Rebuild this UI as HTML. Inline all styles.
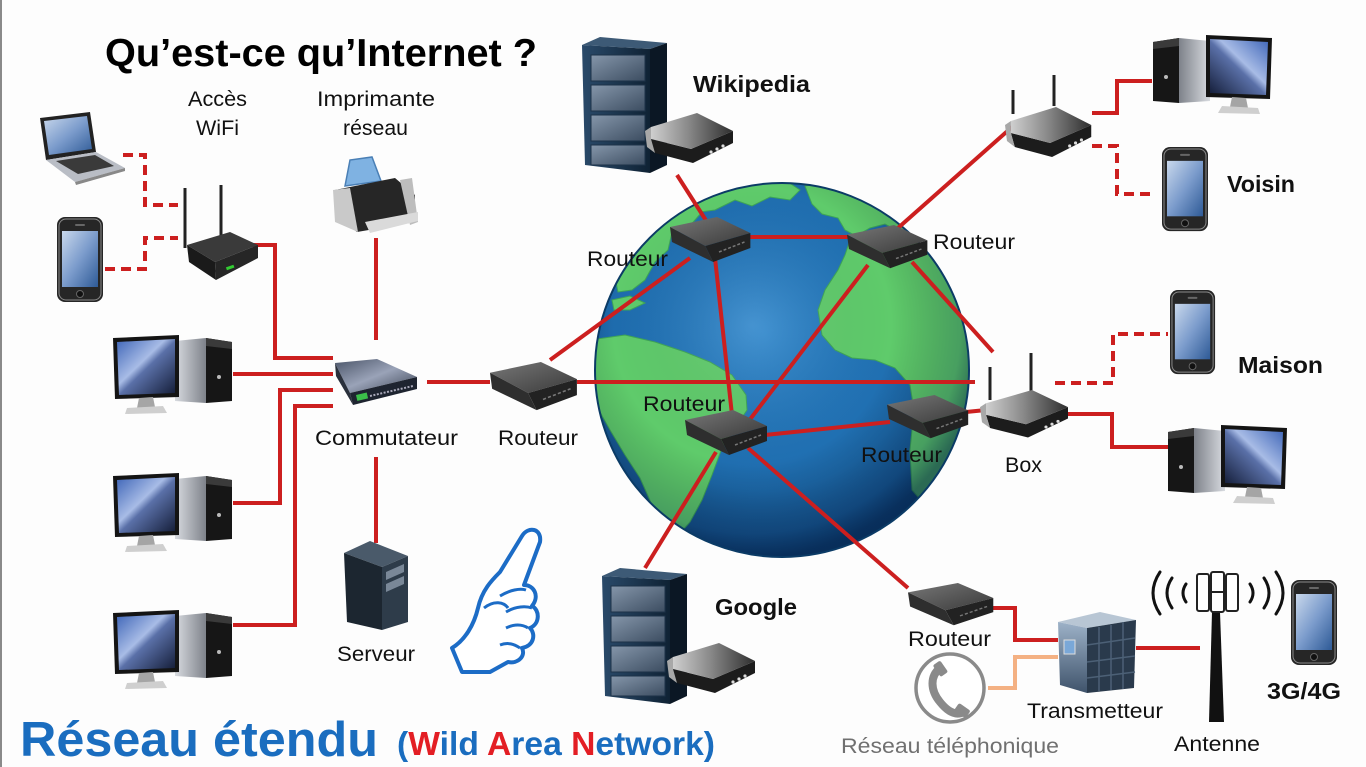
<!DOCTYPE html>
<html><head><meta charset="utf-8"><style>
html,body{margin:0;padding:0;background:#fdfdfd;}
svg{display:block;font-family:"Liberation Sans",Arial,sans-serif;}
</style></head><body>
<svg width="1366" height="767" viewBox="0 0 1366 767" xmlns="http://www.w3.org/2000/svg">
<defs>
 <radialGradient id="ocean" cx="0.45" cy="0.4" r="0.65">
  <stop offset="0" stop-color="#2d86cc"/><stop offset="0.65" stop-color="#1d6aab"/><stop offset="1" stop-color="#0f3d6e"/>
 </radialGradient>
 <radialGradient id="shade" cx="0.42" cy="0.38" r="0.62">
  <stop offset="0" stop-color="#ffffff" stop-opacity="0.12"/><stop offset="0.6" stop-color="#000" stop-opacity="0"/>
  <stop offset="0.9" stop-color="#001a40" stop-opacity="0.25"/><stop offset="1" stop-color="#001a40" stop-opacity="0.55"/>
 </radialGradient>
 <clipPath id="gc"><circle cx="782" cy="370" r="187"/></clipPath>
 <linearGradient id="rtTop" x1="0" y1="0" x2="1" y2="1"><stop offset="0" stop-color="#777"/><stop offset="1" stop-color="#3a3a3a"/></linearGradient>
 <linearGradient id="wrTop" x1="0" y1="0" x2="1" y2="0"><stop offset="0" stop-color="#cfcfcf"/><stop offset="0.45" stop-color="#8a8a8a"/><stop offset="1" stop-color="#2e2e2e"/></linearGradient>
 <linearGradient id="scr" x1="0" y1="0" x2="1" y2="1"><stop offset="0" stop-color="#c9d8ec"/><stop offset="0.5" stop-color="#7c9ccc"/><stop offset="1" stop-color="#2e5a96"/></linearGradient>
 <linearGradient id="mon" x1="0" y1="0" x2="1" y2="1"><stop offset="0" stop-color="#3f66b8"/><stop offset="0.42" stop-color="#a8bce6"/><stop offset="0.52" stop-color="#5a70a8"/><stop offset="1" stop-color="#141d38"/></linearGradient>
 <linearGradient id="tow" x1="0" y1="0" x2="1" y2="0"><stop offset="0" stop-color="#d8dbe0"/><stop offset="1" stop-color="#7e828a"/></linearGradient>
 <linearGradient id="rackF" x1="0" y1="0" x2="1" y2="0"><stop offset="0" stop-color="#2a4a6a"/><stop offset="1" stop-color="#0f2234"/></linearGradient>
 <linearGradient id="panel" x1="0" y1="0" x2="1" y2="1"><stop offset="0" stop-color="#8596aa"/><stop offset="1" stop-color="#3c4d61"/></linearGradient>
 <linearGradient id="swTop" x1="0" y1="0" x2="1" y2="1"><stop offset="0" stop-color="#4a5468"/><stop offset="0.5" stop-color="#9aa3b8"/><stop offset="1" stop-color="#3a4252"/></linearGradient>
 <linearGradient id="trL" x1="0" y1="0" x2="0" y2="1"><stop offset="0" stop-color="#9db2c8"/><stop offset="1" stop-color="#3f536b"/></linearGradient>

 <g id="rt">
  <polygon points="0,10 48,0 82,16 36,29" fill="url(#rtTop)"/>
  <polygon points="36,29 82,16 82,31 44,45" fill="#222"/>
  <polygon points="0,10 36,29 44,45 2,25" fill="#2e2e2e"/>
  <line x1="50" y1="35" x2="76" y2="25" stroke="#777" stroke-width="1.5" stroke-dasharray="3 2"/>
 </g>
 <g id="wr">
  <polygon points="6,26 46,36 88,18 88,30 48,50 10,40" fill="#1c1c1c"/>
  <polygon points="6,14 52,0 88,18 46,36 6,26" fill="url(#wrTop)"/>
  <polygon points="0,18 6,14 6,26 10,40 2,34" fill="#a8a8a8"/>
  <circle cx="66" cy="39" r="1.6" fill="#ddd"/><circle cx="72" cy="36" r="1.6" fill="#ddd"/><circle cx="78" cy="33" r="1.6" fill="#ddd"/>
 </g>
 <g id="pc">
  <polygon points="62,6 93,3 93,68 62,66" fill="url(#tow)"/>
  <polygon points="93,3 119,7 119,66 93,68" fill="#161616"/>
  <polygon points="93,3 119,7 119,14 93,11" fill="#3a3a3a"/>
  <circle cx="106" cy="42" r="2" fill="#bbb"/>
  <polygon points="0,3 66,0 66,62 2,64" fill="#141414"/>
  <polygon points="4,7 62,4 62,58 6,60" fill="url(#mon)"/>
  <polygon points="26,63 40,62 42,72 24,73" fill="#a5a5a5"/>
  <polygon points="14,73 50,71 54,78 12,79" fill="#cfcfcf"/>
 </g>
 <g id="ph">
  <rect x="0" y="0" width="46" height="85" rx="8" fill="#262626"/>
  <rect x="2" y="2" width="42" height="81" rx="7" fill="none" stroke="#8a8a8a" stroke-width="1"/>
  <rect x="5" y="14" width="36" height="56" fill="url(#scr)"/>
  <circle cx="23" cy="77" r="3.5" fill="#111" stroke="#666"/>
  <rect x="18" y="7" width="10" height="2" rx="1" fill="#666"/>
 </g>
 <g id="rack">
  <polygon points="0,8 18,0 85,6 68,12" fill="#3d5a76"/>
  <polygon points="0,8 68,12 68,136 3,128" fill="url(#rackF)"/>
  <polygon points="68,12 85,6 85,128 68,136" fill="#0b1724"/>
  <rect x="9" y="18" width="54" height="26" fill="url(#panel)" stroke="#1d3248"/>
  <rect x="9" y="48" width="54" height="26" fill="url(#panel)" stroke="#1d3248"/>
  <rect x="9" y="78" width="54" height="26" fill="url(#panel)" stroke="#1d3248"/>
  <rect x="9" y="108" width="54" height="20" fill="url(#panel)" stroke="#1d3248"/>
 </g>
</defs>

<rect width="1366" height="767" fill="#fdfdfd"/>
<rect x="0" y="0" width="2" height="767" fill="#8a8a8a"/>

<!-- Globe -->
<circle cx="782" cy="370" r="187" fill="url(#ocean)"/>
<g clip-path="url(#gc)" fill="#5fcb6b" stroke="#3ea656" stroke-width="1">
 <path d="M690,195 L720,186 L750,181 L785,180 L800,190 L790,200 L770,197 L752,206 L735,200 L715,210 L700,212 Z"/>
 <path d="M805,186 L830,182 L855,188 L880,198 L905,212 L915,228 L900,232 L885,224 L870,228 L856,236 L845,230 L838,218 L822,214 L812,204 Z"/>
 <path d="M612,262 L625,240 L645,222 L668,208 L690,200 L702,212 L688,228 L672,232 L668,250 L655,262 L645,280 L632,290 L618,292 Z"/>
 <path d="M612,300 L630,296 L645,303 L630,310 L614,310 Z"/>
 <path d="M850,240 L872,236 L895,240 L915,232 L935,240 L950,255 L962,280 L970,320 L970,370 L967,420 L958,460 L945,490 L925,505 L912,490 L910,450 L914,410 L910,385 L895,368 L875,360 L852,358 L835,350 L822,335 L818,310 L825,290 L838,270 L845,255 Z"/>
 <path d="M590,340 L625,335 L655,342 L685,352 L710,362 L732,375 L746,395 L747,410 L735,428 L722,448 L712,475 L702,500 L690,522 L676,538 L662,528 L652,505 L640,478 L625,455 L610,430 L596,405 Z"/>
</g>
<circle cx="782" cy="370" r="187" fill="url(#shade)"/>
<circle cx="782" cy="370" r="187" fill="none" stroke="#0b3b66" stroke-width="2"/>

<!-- Red connections -->
<g fill="none" stroke="#cc1f1f" stroke-width="4">
 <polyline points="123,155 145,155 145,205 178,205" stroke-dasharray="10 6"/>
 <polyline points="105,269 145,269 145,238 178,238" stroke-dasharray="10 6"/>
 <polyline points="250,245 275,245 275,358 333,358"/>
 <line x1="376" y1="238" x2="376" y2="340"/>
 <line x1="233" y1="374" x2="333" y2="374"/>
 <polyline points="233,503 280,503 280,390 333,390"/>
 <polyline points="233,625 295,625 295,406 333,406"/>
 <line x1="376" y1="457" x2="376" y2="543"/>
 <line x1="427" y1="382" x2="490" y2="382"/>
 <line x1="677" y1="175" x2="707" y2="222"/>
 <line x1="750" y1="237" x2="850" y2="237"/>
 <line x1="690" y1="258" x2="550" y2="360"/>
 <line x1="715" y1="258" x2="732" y2="415"/>
 <line x1="577" y1="382" x2="975" y2="382"/>
 <line x1="868" y1="265" x2="748" y2="422"/>
 <line x1="912" y1="262" x2="993" y2="352"/>
 <line x1="898" y1="228" x2="1012" y2="127"/>
 <line x1="765" y1="435" x2="890" y2="422"/>
 <line x1="966" y1="412" x2="986" y2="410"/>
 <line x1="716" y1="452" x2="645" y2="568"/>
 <line x1="748" y1="448" x2="908" y2="588"/>
 <polyline points="1092,113 1117,113 1117,81 1152,81"/>
 <polyline points="1092,146 1117,146 1117,194 1152,194" stroke-dasharray="10 6"/>
 <polyline points="1055,383 1113,383 1113,334 1168,334" stroke-dasharray="10 6"/>
 <polyline points="1066,414 1112,414 1112,447 1168,447"/>
 <polyline points="990,608 1015,608 1015,640 1058,640"/>
 <line x1="1136" y1="648" x2="1200" y2="648"/>
</g>
<polyline points="988,688 1015,688 1015,657 1058,657" fill="none" stroke="#f4b183" stroke-width="4"/>

<!-- Routers -->
<use href="#rt" transform="translate(670,217) scale(0.98,1)"/>
<use href="#rt" transform="translate(847,225) scale(0.98,0.96)"/>
<use href="#rt" transform="translate(685,410)"/>
<use href="#rt" transform="translate(887,395) scale(0.99,0.96)"/>
<use href="#rt" transform="translate(490,362) scale(1.06,1.07)"/>
<use href="#rt" transform="translate(908,583) scale(1.04,0.94)"/>

<!-- Left devices -->
<polygon points="40,118 90,112 96,152 46,160" fill="#222"/>
<polygon points="44,121 87,116 92,149 49,155" fill="url(#scr)"/>
<polygon points="46,160 96,152 125,168 75,182" fill="#b9bdc5"/>
<polygon points="56,161 95,155 114,166 78,174" fill="#3a3a3a"/>
<polygon points="75,182 125,168 125,171 76,185" fill="#888"/>
<use href="#ph" transform="translate(57,217)"/>
<line x1="185" y1="188" x2="185" y2="248" stroke="#222" stroke-width="3"/>
<line x1="221" y1="185" x2="221" y2="238" stroke="#222" stroke-width="3"/>
<polygon points="187,245 230,232 258,245 215,262" fill="#3a3a3a"/>
<polygon points="187,245 215,262 216,280 189,262" fill="#1a1a1a"/>
<polygon points="215,262 258,245 258,258 216,280" fill="#262626"/>
<rect x="226" y="266" width="8" height="3" fill="#3c3" transform="rotate(-20 230 267)"/>
<!-- printer -->
<path d="M345,186 L350,160 L372,157 L381,181 Z" fill="#7fb2e2" stroke="#4a7fb5" stroke-width="1.5"/>
<polygon points="335,190 395,178 415,195 415,222 357,232 335,215" fill="#262626"/>
<polygon points="333,190 350,188 358,232 335,222" fill="#c9c9c9"/>
<polygon points="400,180 412,178 418,222 410,225" fill="#bdbdbd"/>
<polygon points="365,222 418,212 418,221 370,233" fill="#dadada"/>
<!-- switch -->
<polygon points="335,363 377,359 417,377 350,393" fill="url(#swTop)"/>
<polygon points="350,393 417,377 417,389 353,405" fill="#1e2430"/>
<polygon points="335,363 350,393 353,405 336,376" fill="#2a303c"/>
<rect x="356" y="395" width="11" height="6" fill="#3bbf4a" transform="rotate(-13 356 395)"/>
<line x1="370" y1="396" x2="413" y2="386" stroke="#aab" stroke-width="2" stroke-dasharray="2 1.5"/>
<!-- computers -->
<use href="#pc" transform="translate(113,335)"/>
<use href="#pc" transform="translate(113,473)"/>
<use href="#pc" transform="translate(113,610)"/>
<!-- server tower -->
<polygon points="344,553 370,541 408,556 382,567" fill="#4a5a6a"/>
<polygon points="344,553 382,567 382,630 347,622" fill="#1c2630"/>
<polygon points="382,567 408,556 408,622 382,630" fill="#2e3c4a"/>
<polygon points="386,572 404,564 404,572 386,580" fill="#7a8898"/>
<polygon points="386,584 404,576 404,584 386,592" fill="#7a8898"/>
<!-- hand -->
<path d="M462,672 L452,648 C465,640 474,625 478,608 C482,590 492,580 500,572 L522,536 C528,526 542,528 540,542 L524,585 C534,585 540,596 532,606 C540,610 540,624 530,628 C536,634 534,646 522,648 C526,656 518,664 508,662 L490,672 Z" fill="#fff" stroke="#1c6cc6" stroke-width="4" stroke-linejoin="round"/>
<path d="M500,596 C510,590 520,588 526,590 M506,612 C516,606 526,606 532,608 M506,628 C514,624 522,624 528,628 M500,645 C508,642 514,644 520,648 M484,608 C494,600 504,602 508,608" fill="none" stroke="#1c6cc6" stroke-width="3"/>

<!-- Servers Wikipedia / Google -->
<use href="#rack" transform="translate(582,37)"/>
<use href="#wr" transform="translate(645,113)"/>
<use href="#rack" transform="translate(602,568) scale(1,1.0)"/>
<use href="#wr" transform="translate(667,643)"/>

<!-- Right side -->
<line x1="1013" y1="90" x2="1013" y2="114" stroke="#222" stroke-width="3"/>
<line x1="1054" y1="75" x2="1054" y2="106" stroke="#222" stroke-width="3"/>
<use href="#wr" transform="translate(1005,107) scale(0.98,1)"/>
<use href="#pc" transform="translate(1272,35) scale(-1,1)"/>
<use href="#ph" transform="translate(1162,147) scale(1,0.99)"/>
<use href="#ph" transform="translate(1170,290) scale(0.98,0.99)"/>
<line x1="990" y1="367" x2="990" y2="400" stroke="#222" stroke-width="3"/>
<line x1="1031" y1="353" x2="1031" y2="392" stroke="#222" stroke-width="3"/>
<use href="#wr" transform="translate(980,390) scale(1,0.95)"/>
<use href="#pc" transform="translate(1287,425) scale(-1,1)"/>

<!-- Bottom right -->
<circle cx="950" cy="688" r="34" fill="#fff" stroke="#8a8a8a" stroke-width="3.5"/>
<path d="M940,668 C930,676 930,690 940,702 C948,712 956,716 964,712" fill="none" stroke="#8a8a8a" stroke-width="8" stroke-linecap="round"/>
<rect x="936" y="662" width="9" height="14" rx="2" fill="#8a8a8a" transform="rotate(-35 940 669)"/>
<rect x="958" y="704" width="9" height="14" rx="2" fill="#8a8a8a" transform="rotate(-55 962 711)"/>
<polygon points="1058,622 1100,612 1136,620 1087,628" fill="#b8c6d4"/>
<polygon points="1058,622 1087,628 1087,693 1060,685" fill="url(#trL)"/>
<polygon points="1087,628 1136,620 1134,688 1087,693" fill="#2a3a4c"/>
<g stroke="#4c6076" stroke-width="1.5" fill="none">
 <line x1="1099" y1="627" x2="1099" y2="691"/><line x1="1111" y1="625" x2="1111" y2="690"/><line x1="1123" y1="622" x2="1123" y2="689"/>
 <line x1="1087" y1="645" x2="1135" y2="638"/><line x1="1087" y1="662" x2="1135" y2="656"/><line x1="1087" y1="678" x2="1135" y2="672"/>
</g>
<rect x="1064" y="640" width="11" height="14" fill="#7aa8d8" stroke="#ddd" stroke-width="1"/>
<polygon points="1212,612 1220,612 1224,722 1209,722" fill="#111"/>
<g fill="#fff" stroke="#222" stroke-width="2">
 <rect x="1197" y="574" width="12" height="37" rx="2"/>
 <rect x="1211" y="572" width="13" height="40" rx="2"/>
 <rect x="1226" y="574" width="12" height="37" rx="2"/>
</g>
<line x1="1209" y1="592" x2="1226" y2="592" stroke="#222" stroke-width="2"/>
<g fill="none" stroke="#111" stroke-width="3" stroke-linecap="round">
 <path d="M1160,572 Q1146,593 1160,614"/>
 <path d="M1172,578 Q1162,593 1172,608"/>
 <path d="M1186,584 Q1180,593 1186,602"/>
 <path d="M1250,584 Q1256,593 1250,602"/>
 <path d="M1264,578 Q1274,593 1264,608"/>
 <path d="M1276,572 Q1290,593 1276,614"/>
</g>
<use href="#ph" transform="translate(1291,580)"/>

<!-- Text -->
<g fill="#000">
 <text x="105" y="66" font-size="39" font-weight="bold" textLength="432" lengthAdjust="spacingAndGlyphs">Qu’est-ce qu’Internet ?</text>
</g>
<g fill="#111" font-size="21">
 <text x="188" y="106" textLength="59" lengthAdjust="spacingAndGlyphs">Accès</text>
 <text x="196" y="135" textLength="43" lengthAdjust="spacingAndGlyphs">WiFi</text>
 <text x="317" y="106" textLength="118" lengthAdjust="spacingAndGlyphs">Imprimante</text>
 <text x="343" y="135" textLength="65" lengthAdjust="spacingAndGlyphs">réseau</text>
 <text x="315" y="445" textLength="143" lengthAdjust="spacingAndGlyphs">Commutateur</text>
 <text x="498" y="445" textLength="80" lengthAdjust="spacingAndGlyphs">Routeur</text>
 <text x="337" y="661" textLength="78" lengthAdjust="spacingAndGlyphs">Serveur</text>
 <text x="587" y="266" textLength="81" lengthAdjust="spacingAndGlyphs">Routeur</text>
 <text x="933" y="249" textLength="82" lengthAdjust="spacingAndGlyphs">Routeur</text>
 <text x="643" y="411" textLength="82" lengthAdjust="spacingAndGlyphs">Routeur</text>
 <text x="861" y="462" textLength="81" lengthAdjust="spacingAndGlyphs">Routeur</text>
 <text x="1005" y="472" textLength="37" lengthAdjust="spacingAndGlyphs">Box</text>
 <text x="908" y="646" textLength="83" lengthAdjust="spacingAndGlyphs">Routeur</text>
 <text x="1027" y="718" textLength="136" lengthAdjust="spacingAndGlyphs">Transmetteur</text>
 <text x="1174" y="751" textLength="86" lengthAdjust="spacingAndGlyphs">Antenne</text>
 <text x="841" y="753" fill="#707070" textLength="218" lengthAdjust="spacingAndGlyphs">Réseau téléphonique</text>
</g>
<g fill="#111" font-size="23" font-weight="bold">
 <text x="693" y="92" textLength="117" lengthAdjust="spacingAndGlyphs">Wikipedia</text>
 <text x="1227" y="192" textLength="68" lengthAdjust="spacingAndGlyphs">Voisin</text>
 <text x="1238" y="373" textLength="85" lengthAdjust="spacingAndGlyphs">Maison</text>
 <text x="715" y="615" textLength="82" lengthAdjust="spacingAndGlyphs">Google</text>
 <text x="1267" y="699" textLength="74" lengthAdjust="spacingAndGlyphs">3G/4G</text>
</g>
<text x="20" y="756" font-size="49" font-weight="bold" fill="#1a6dbf" textLength="358" lengthAdjust="spacingAndGlyphs">Réseau étendu</text>
<text x="397" y="755" font-size="33" font-weight="bold" fill="#1a6dbf" textLength="318" lengthAdjust="spacingAndGlyphs">(<tspan fill="#e31e24">W</tspan>ild <tspan fill="#e31e24">A</tspan>rea <tspan fill="#e31e24">N</tspan>etwork)</text>
</svg>
</body></html>
